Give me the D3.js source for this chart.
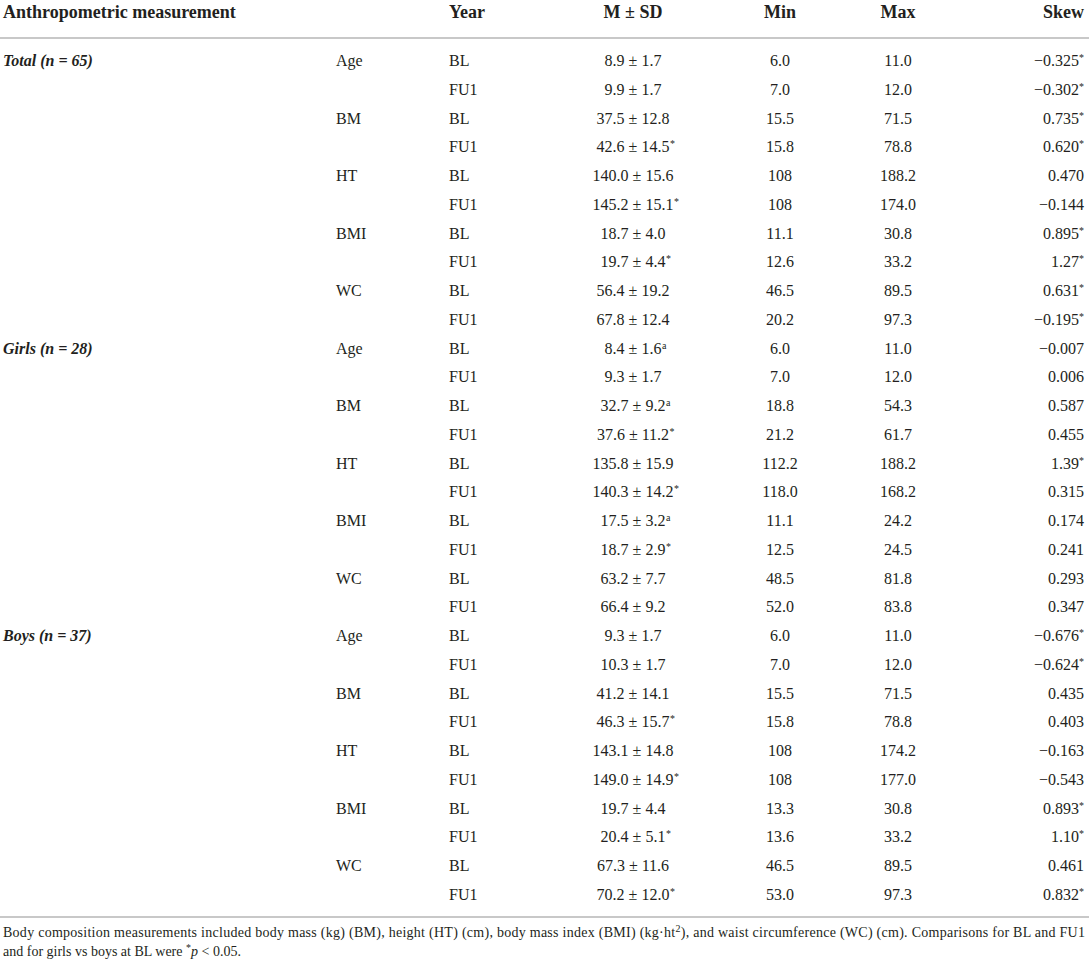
<!DOCTYPE html>
<html>
<head>
<meta charset="utf-8">
<script src="https://cdn.jsdelivr.net/npm/d3@7"></script>
<style>
  body { margin: 0; background: #fff; }
  svg text { font-family: "Liberation Serif", "Times New Roman", serif; fill: #231f20; }
</style>
</head>
<body>
<svg class="table" width="1089" height="967"></svg>
<script>
// table content
const columns = ["Anthropometric measurement", "Year", "M \u00b1 SD", "Min", "Max", "Skew"];
const groups = ["Total", "Girls", "Boys"];
const groupN = [65, 28, 37];
const measures = ["Age", "BM", "HT", "BMI", "WC"];
const years = ["BL", "FU1"];

const means = [
  "8.9", "9.9", "37.5", "42.6", "140.0", "145.2", "18.7", "19.7", "56.4", "67.8",
  "8.4", "9.3", "32.7", "37.6", "135.8", "140.3", "17.5", "18.7", "63.2", "66.4",
  "9.3", "10.3", "41.2", "46.3", "143.1", "149.0", "19.7", "20.4", "67.3", "70.2"
];
const sds = [
  "1.7", "1.7", "12.8", "14.5", "15.6", "15.1", "4.0", "4.4", "19.2", "12.4",
  "1.6", "1.7", "9.2", "11.2", "15.9", "14.2", "3.2", "2.9", "7.7", "9.2",
  "1.7", "1.7", "14.1", "15.7", "14.8", "14.9", "4.4", "5.1", "11.6", "12.0"
];
const meanMarks = [
  "", "", "", "*", "", "*", "", "*", "", "",
  "a", "", "a", "*", "", "*", "a", "*", "", "",
  "", "", "", "*", "", "*", "", "*", "", "*"
];
const mins = [
  "6.0", "7.0", "15.5", "15.8", "108", "108", "11.1", "12.6", "46.5", "20.2",
  "6.0", "7.0", "18.8", "21.2", "112.2", "118.0", "11.1", "12.5", "48.5", "52.0",
  "6.0", "7.0", "15.5", "15.8", "108", "108", "13.3", "13.6", "46.5", "53.0"
];
const maxs = [
  "11.0", "12.0", "71.5", "78.8", "188.2", "174.0", "30.8", "33.2", "89.5", "97.3",
  "11.0", "12.0", "54.3", "61.7", "188.2", "168.2", "24.2", "24.5", "81.8", "83.8",
  "11.0", "12.0", "71.5", "78.8", "174.2", "177.0", "30.8", "33.2", "89.5", "97.3"
];
const skews = [
  "\u22120.325", "\u22120.302", "0.735", "0.620", "0.470", "\u22120.144", "0.895", "1.27", "0.631", "\u22120.195",
  "\u22120.007", "0.006", "0.587", "0.455", "1.39", "0.315", "0.174", "0.241", "0.293", "0.347",
  "\u22120.676", "\u22120.624", "0.435", "0.403", "\u22120.163", "\u22120.543", "0.893", "1.10", "0.461", "0.832"
];
const skewMarks = [
  "*", "*", "*", "*", "", "", "*", "*", "*", "*",
  "", "", "", "", "*", "", "", "", "", "",
  "*", "*", "", "", "", "", "*", "*", "", "*"
];

// build rows
const rows = [];
groups.forEach((g, gi) => {
  measures.forEach((m, mi) => {
    years.forEach((yr, yi) => {
      const i = rows.length;
      rows.push({
        group: (mi === 0 && yi === 0) ? g : null,
        n: groupN[gi],
        measure: yi === 0 ? m : null,
        year: yr,
        mean: means[i] + " \u00b1 " + sds[i],
        meanMark: meanMarks[i],
        min: mins[i],
        max: maxs[i],
        skew: skews[i],
        skewMark: skewMarks[i]
      });
    });
  });
});

const svg = d3.select(".table");
const width = 1089;

const y = d3.scalePoint().domain(d3.range(rows.length)).range([66, 900]);

// column anchors
const colGroup = 3, colMeasure = 336, colYear = 449;
const colMean = 633, colMin = 780, colMax = 898, colSkew = 1084;

// header
const head = svg.append("g").style("font-weight", "bold").style("font-size", "18px");
head.append("text").attr("x", colGroup).attr("y", 18).text(columns[0]);
head.append("text").attr("x", colYear).attr("y", 18).text(columns[1]);
head.append("text").attr("x", colMean).attr("y", 18).attr("text-anchor", "middle").text(columns[2]);
head.append("text").attr("x", colMin).attr("y", 18).attr("text-anchor", "middle").text(columns[3]);
head.append("text").attr("x", colMax).attr("y", 18).attr("text-anchor", "middle").text(columns[4]);
head.append("text").attr("x", colSkew).attr("y", 18).attr("text-anchor", "end").text(columns[5]);

// rules
svg.append("line").attr("x1", 0).attr("x2", width).attr("y1", 38).attr("y2", 38)
  .style("stroke", "#c8c8c8").style("stroke-width", 2);
svg.append("line").attr("x1", 0).attr("x2", width).attr("y1", 917).attr("y2", 917)
  .style("stroke", "#c8c8c8").style("stroke-width", 2);

// body
const body = svg.append("g").style("font-size", "16px");

rows.forEach((d, i) => {
  const yy = y(i);

  if (d.group) {
    const t = body.append("text").attr("x", colGroup).attr("y", yy)
      .style("font-weight", "bold").style("font-style", "italic");
    t.append("tspan").text(d.group + " (");
    t.append("tspan").text("n");
    t.append("tspan").text(" = " + d.n + ")");
  }
  if (d.measure) {
    body.append("text").attr("x", colMeasure).attr("y", yy).text(d.measure);
  }
  body.append("text").attr("x", colYear).attr("y", yy).text(d.year);

  // mean ± sd, centred on the number, mark hangs after it
  const mt = body.append("text").attr("x", colMean).attr("y", yy)
    .attr("text-anchor", "middle").text(d.mean);
  if (d.meanMark) {
    const len = mt.node().getComputedTextLength();
    body.append("text").attr("x", colMean + len / 2 + 0.5).attr("y", yy - 5)
      .style("font-size", "10px").text(d.meanMark);
  }

  body.append("text").attr("x", colMin).attr("y", yy).attr("text-anchor", "middle").text(d.min);
  body.append("text").attr("x", colMax).attr("y", yy).attr("text-anchor", "middle").text(d.max);

  const st = body.append("text").attr("x", colSkew).attr("y", yy).attr("text-anchor", "end");
  st.append("tspan").text(d.skew);
  if (d.skewMark) {
    st.append("tspan").attr("dy", -5).style("font-size", "10px").text(d.skewMark);
  }
});

// footnote
const note = svg.append("g").style("font-size", "14px");
const n1 = note.append("text").attr("x", colGroup).attr("y", 937)
  .attr("textLength", 1082).attr("lengthAdjust", "spacing");
n1.append("tspan").text("Body composition measurements included body mass (kg) (BM), height (HT) (cm), body mass index (BMI) (kg\u00b7ht");
n1.append("tspan").attr("dy", -5).style("font-size", "10px").text("2");
n1.append("tspan").attr("dy", 5).text("), and waist circumference (WC) (cm). Comparisons for BL and FU1");

const n2 = note.append("text").attr("x", colGroup).attr("y", 956);
n2.append("tspan").text("and for girls vs boys at BL were ");
n2.append("tspan").attr("dy", -5).style("font-size", "10px").text("*");
n2.append("tspan").attr("dy", 5).style("font-style", "italic").text("p");
n2.append("tspan").text(" < 0.05.");
</script>
</body>
</html>
